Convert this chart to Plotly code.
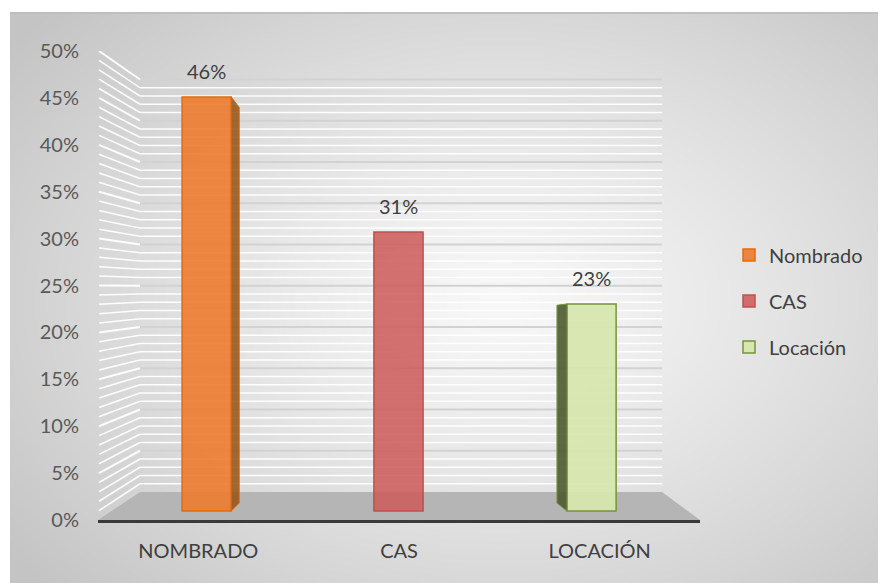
import base64, struct, zlib
import numpy as np
import plotly.graph_objects as go

# ---------------- data ----------------
categories = ["NOMBRADO", "CAS", "LOCACIÓN"]
series_names = ["Nombrado", "CAS", "Locación"]
values = [0.46, 0.31, 0.23]
value_labels = ["46%", "31%", "23%"]
y_ticks = [0.0, 0.05, 0.10, 0.15, 0.20, 0.25, 0.30, 0.35, 0.40, 0.45, 0.50]

# ---------------- styles ----------------
fills = ["rgba(237,125,49,0.92)", "rgba(205,92,92,0.88)", "rgba(215,230,175,0.95)"]
edges = ["#e46c0a", "#c0504d", "#77933c"]
side_cols = ["rgba(150,80,20,0.85)", "rgba(0,0,0,0)", "rgba(75,90,45,0.9)"]
bar_offsets = [-0.081, -0.125, -0.163]
side_depth_px = [8, 0, -10]
BAR_W = 0.245
FONT = "Lato"
TXT = "#404040"
FS = 20

PAGE_OFF = 8                             # browser body margin
SW, SH = 886, 583                        # screen size
L, R, T, B = 98, 700, 51, 520           # plot area (screen pixels)
FRONT0, FRONT_PER = 520, 938.0           # tick axis: px of 0 and px per unit
BAR0, BAR_PER = 511, 900.0               # bar front-face scale
BACK0, BACK_PER = 492, 825.0             # back wall scale
BBACK0, BBACK_PER = 503, 860.0           # bar back-face scale


def xd(px):
    return (px - L) / (R - L) * 3 - 0.5


def yt(px):
    return (FRONT0 - px) / FRONT_PER


def xpx(d):
    return (d + 0.5) / 3 * (R - L) + L


# ------------- background gradient image -------------
def gradient_uri(w, h):
    jj, ii = np.mgrid[0:h, 0:w]
    sx = 876 / w
    sy = 570 / h
    px = ii * sx + 10
    py = jj * sy + 13
    d = np.sqrt(((px - 500) / 620) ** 2 + ((py - 300) / 430) ** 2)
    d = np.clip(d, 0, 1) ** 1.2
    g = (248 - (248 - 196) * d).astype(np.uint8)
    rgb = np.stack([g, g, g], axis=-1)
    raw = b"".join(b"\x00" + rgb[j].tobytes() for j in range(h))

    def chunk(t, dd):
        c = struct.pack(">I", len(dd)) + t + dd
        return c + struct.pack(">I", zlib.crc32(t + dd) & 0xFFFFFFFF)

    png = (b"\x89PNG\r\n\x1a\n"
           + chunk(b"IHDR", struct.pack(">IIBBBBB", w, h, 8, 2, 0, 0, 0))
           + chunk(b"IDAT", zlib.compress(raw, 9))
           + chunk(b"IEND", b""))
    return "data:image/png;base64," + base64.b64encode(png).decode()


fig = go.Figure()

# ---------------- bars ----------------
for i, (cat, name, v) in enumerate(zip(categories, series_names, values)):
    fig.add_trace(go.Bar(
        x=[cat], y=[v], name=name, yaxis="y2",
        width=BAR_W, offset=bar_offsets[i],
        marker=dict(color=fills[i], line=dict(color=edges[i], width=1.5)),
        legendgroup=name, hoverinfo="skip",
    ))

shapes = []

# border line at top of chart area
shapes.append(dict(type="line", xref="paper", yref="paper",
                   x0=(10 - L) / (R - L), x1=(886 - L) / (R - L),
                   y0=(B - 13) / (B - T), y1=(B - 13) / (B - T),
                   line=dict(color="#bfbfbf", width=2), layer="below"))

# floor
shapes.append(dict(type="path", xref="x", yref="y", layer="below",
                   path=f"M {xd(98)},{yt(520)} L {xd(140)},{yt(492)} L {xd(662)},{yt(492)} L {xd(700)},{yt(520)} Z",
                   fillcolor="#b5b5b5", line=dict(width=0)))

# back wall + side wall gridlines (1% minor, 5% major)
for k in range(1, 51):
    v = k / 100
    major = (k % 5 == 0)
    yb = BACK0 - v * BACK_PER
    yf = FRONT0 - v * FRONT_PER
    col = "#d2d2d2" if major else "rgba(255,255,255,0.95)"
    wd = 2 if major else 1.5
    shapes.append(dict(type="line", xref="x", yref="y", layer="below",
                       x0=xd(140), x1=xd(662), y0=yt(yb), y1=yt(yb),
                       line=dict(color=col, width=wd)))
    shapes.append(dict(type="line", xref="x", yref="y", layer="below",
                       x0=xd(99), x1=xd(140), y0=yt(yf), y1=yt(yb),
                       line=dict(color="rgba(255,255,255,0.95)", width=wd)))

# 3D side faces of the bars (derived from the values)
for i, v in enumerate(values):
    dpx = side_depth_px[i]
    if dpx == 0:
        continue
    left = xpx(i + bar_offsets[i])
    right = left + BAR_W / 3 * (R - L)
    xe = right if dpx > 0 else left
    ftop = BAR0 - v * BAR_PER
    btop = BBACK0 - v * BBACK_PER
    path = (f"M {xd(xe)},{yt(ftop)} L {xd(xe + dpx)},{yt(btop)} "
            f"L {xd(xe + dpx)},{yt(BBACK0)} L {xd(xe)},{yt(BAR0)} Z")
    shapes.append(dict(type="path", xref="x", yref="y", layer="above",
                       path=path, fillcolor=side_cols[i],
                       line=dict(color=edges[i], width=1)))

# value labels
annotations = []
for i, (v, lab) in enumerate(zip(values, value_labels)):
    annotations.append(dict(
        x=i + bar_offsets[i] + BAR_W / 2, y=v, xref="x", yref="y2",
        text=lab, showarrow=False, yanchor="bottom", yshift=12,
        font=dict(family=FONT, size=FS, color=TXT)))

fig.update_layout(
    width=SW - PAGE_OFF, height=SH - PAGE_OFF,
    margin=dict(l=L - PAGE_OFF, r=SW - R, t=T - PAGE_OFF, b=SH - B, pad=0),
    paper_bgcolor="white",
    plot_bgcolor="rgba(0,0,0,0)",
    barmode="overlay",
    font=dict(family=FONT, size=FS, color=TXT),
    xaxis=dict(type="category", range=[-0.5, 2.5], showgrid=False,
               showline=True, linecolor="#3a3a3a", linewidth=3,
               ticks="", ticklabelstandoff=11,
               tickfont=dict(family=FONT, size=FS, color=TXT),
               zeroline=False, fixedrange=True, anchor="y"),
    yaxis=dict(range=[0, 0.5], tickvals=y_ticks, tickformat=".0%",
               showgrid=False, zeroline=False, showline=False, ticks="",
               ticklabelstandoff=18,
               tickfont=dict(family=FONT, size=FS, color="#595959")),
    yaxis2=dict(overlaying="y", range=[(BAR0 - FRONT0) / BAR_PER, (BAR0 - T) / BAR_PER],
                visible=False, showgrid=False, zeroline=False),
    showlegend=True,
    legend=dict(x=(729 - L) / (R - L), y=(B - 301) / (B - T),
                xanchor="left", yanchor="middle",
                traceorder="grouped", tracegroupgap=17,
                bgcolor="rgba(0,0,0,0)", itemwidth=30,
                font=dict(family=FONT, size=FS, color=TXT)),
    shapes=shapes,
    annotations=annotations,
    images=[dict(source=gradient_uri(438, 285), xref="paper", yref="paper",
                 x=(10 - L) / (R - L), y=(B - 13) / (B - T),
                 sizex=876 / (R - L), sizey=570 / (B - T),
                 xanchor="left", yanchor="top", sizing="stretch", layer="below")],
)

fig.write_html("out.html")
